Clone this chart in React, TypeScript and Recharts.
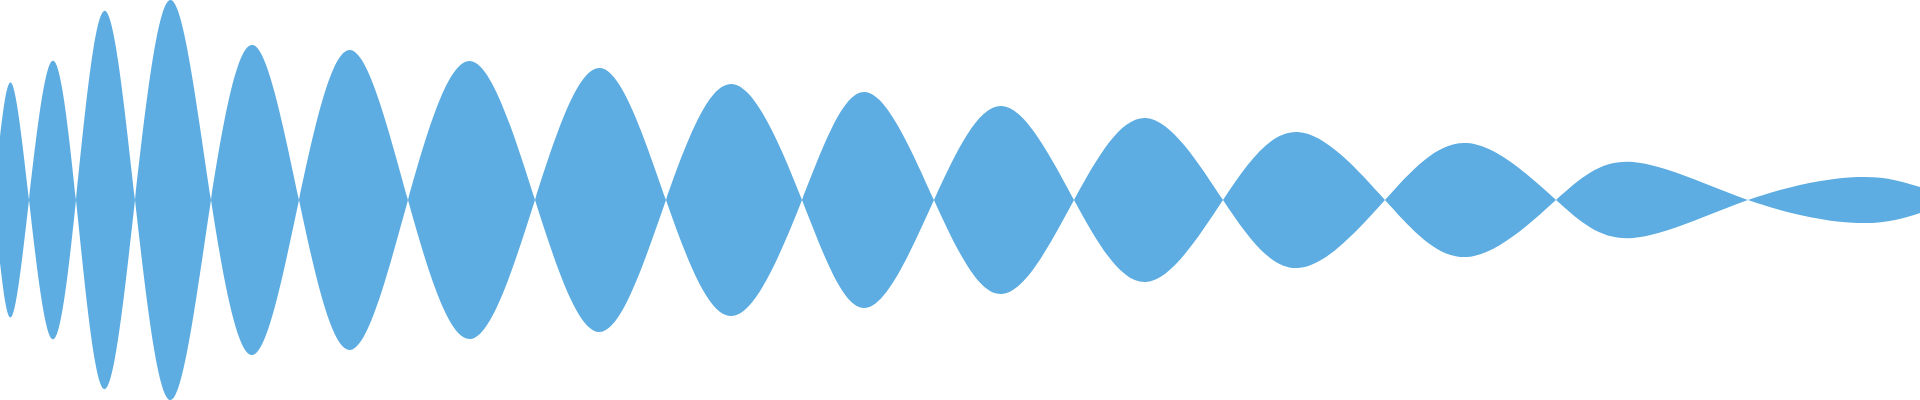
import React from "react";
import { AreaChart, Area, XAxis, YAxis } from "recharts";

// x positions (peaks and zero crossings)
const xs = [0, 12, 29, 52, 76, 104, 135, 171, 211, 253, 299, 350, 408, 470, 535, 600, 666, 732, 802, 865, 934, 1002, 1074, 1146, 1223, 1298, 1385, 1467, 1556, 1633, 1748, 1857, 1920];
// signed half-width of the wave at each x
const amps = [63, 116, 0, -139, 0, 189, 0, -200, 0, 155, 0, -150, 0, 139, 0, -132, 0, 116, 0, -108, 0, 94, 0, -82, 0, 68, 0, -57, 0, 38, 0, -23, -13];

const data = xs.map((x, i) => ({ x, band: [-amps[i], amps[i]] }));

export default function App() {
  return (
    <div style={{ position: "absolute", left: 0, top: 0, width: 1920, height: 400 }}>
      <AreaChart width={1920} height={400} data={data} margin={{ top: 0, right: 0, bottom: 0, left: 0 }}>
        <XAxis dataKey="x" type="number" domain={[0, 1920]} hide />
        <YAxis type="number" domain={[-200, 200]} hide allowDataOverflow />
        <Area
          dataKey="band"
          type="natural"
          fill="#5DADE2"
          fillOpacity={1}
          stroke="none"
          isAnimationActive={false}
          dot={false}
          activeDot={false}
        />
      </AreaChart>
    </div>
  );
}
